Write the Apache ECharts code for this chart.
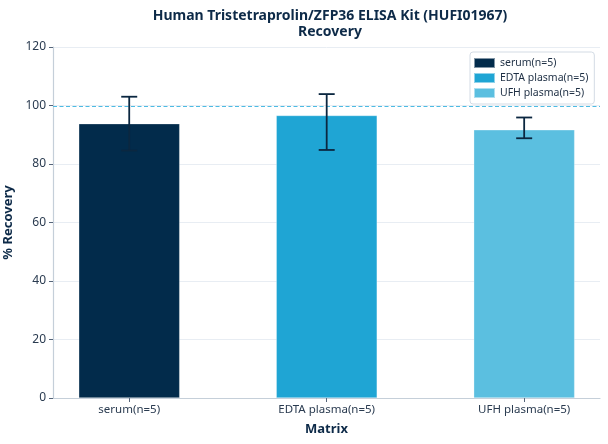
<!DOCTYPE html>
<html>
<head>
<meta charset="UTF-8">
<title>Recovery</title>
<script src="https://cdn.jsdelivr.net/npm/echarts@6/dist/echarts.min.js"></script>
<style>
html, body { margin: 0; padding: 0; background: #fff; }
#chart { width: 608px; height: 444px; }
</style>
</head>
<body>
<div id="chart"></div>
<script>
// data
var categories = ['serum(n=5)', 'EDTA plasma(n=5)', 'UFH plasma(n=5)'];
var recovery = [93.8, 96.6, 91.7];
var errLow = [84.6, 84.8, 88.8];
var errHigh = [103.0, 103.9, 95.9];
var colors = ['#022b4b', '#1fa5d4', '#5bbfe0'];
var yTicks = [0, 20, 40, 60, 80, 100, 120];
var refLine = 100;

var textColor = '#0d2a48';
var font = 'Noto Sans';

var chart = echarts.init(document.getElementById('chart'));

var series = [];
for (var i = 0; i < categories.length; i++) {
    series.push({
        name: categories[i],
        type: 'bar',
        barWidth: 101,
        barGap: '-100%',
        itemStyle: { color: colors[i], borderColor: 'rgba(255,255,255,0.5)', borderWidth: 0.6 },
        data: [[i, recovery[i]]],
        z: 2
    });
}

var errData = [];
for (var j = 0; j < categories.length; j++) {
    errData.push([j, errLow[j], errHigh[j]]);
}

series.push({
    type: 'custom',
    name: 'error',
    z: 5,
    renderItem: function (params, api) {
        var x = api.value(0);
        var lo = api.coord([x, api.value(1)]);
        var hi = api.coord([x, api.value(2)]);
        var half = 8;
        var style = { stroke: '#0b2740', lineWidth: 1.8 };
        return {
            type: 'group',
            children: [
                { type: 'line', shape: { x1: lo[0], y1: lo[1], x2: hi[0], y2: hi[1] }, style: style },
                { type: 'line', shape: { x1: hi[0] - half, y1: hi[1], x2: hi[0] + half, y2: hi[1] }, style: style },
                { type: 'line', shape: { x1: lo[0] - half, y1: lo[1], x2: lo[0] + half, y2: lo[1] }, style: style }
            ]
        };
    },
    encode: { x: 0, y: [1, 2] },
    data: errData
});

// 100% reference line across the plot
series.push({
    type: 'custom',
    name: 'ref',
    z: 1,
    silent: true,
    renderItem: function (params, api) {
        var p = api.coord([0, api.value(0)]);
        var y = Math.round(p[1]) + 0.5;
        return {
            type: 'line',
            shape: { x1: params.coordSys.x, y1: y, x2: params.coordSys.x + params.coordSys.width, y2: y },
            style: { stroke: '#4dbbe3', lineWidth: 1.1, lineDash: [4, 2.5] }
        };
    },
    encode: { y: 0 },
    data: [[refLine]]
});

var option = {
    textStyle: { fontFamily: font },
    title: {
        text: 'Human Tristetraprolin/ZFP36 ELISA Kit (HUFI01967)\nRecovery',
        left: 330,
        textAlign: 'center',
        top: 5,
        padding: [3, 0, 3, 0],
        textStyle: { fontFamily: font, fontSize: 14, fontWeight: 'bold', color: textColor, lineHeight: 16 }
    },
    legend: {
        orient: 'vertical',
        left: 470,
        top: 52,
        data: categories,
        icon: 'rect',
        itemWidth: 21,
        itemHeight: 10,
        itemGap: 3,
        padding: [5, 6, 5, 3],
        borderColor: '#d3dbe4',
        borderWidth: 1,
        borderRadius: 3,
        backgroundColor: '#fff',
        textStyle: { fontFamily: font, fontSize: 10.5, color: '#1e2f44' }
    },
    grid: { left: 53, right: 8, top: 47, bottom: 46, outerBoundsMode: 'none' },
    xAxis: {
        type: 'value',
        min: -0.386,
        max: 2.384,
        name: 'Matrix',
        nameLocation: 'middle',
        nameGap: 25,
        nameTextStyle: { fontFamily: font, fontSize: 13, fontWeight: 'bold', color: textColor },
        axisLine: { onZero: false, lineStyle: { color: '#c5cfd9', width: 1.2 } },
        axisTick: { show: true, customValues: [0, 1, 2], length: 4, lineStyle: { color: '#55657a' } },
        axisLabel: {
            customValues: [0, 1, 2],
            formatter: function (v) { return categories[Math.round(v)]; },
            fontFamily: font, fontSize: 11.5, color: '#2a3b50', margin: 6
        },
        splitLine: { show: false }
    },
    yAxis: {
        type: 'value',
        min: yTicks[0],
        max: yTicks[yTicks.length - 1],
        interval: 20,
        name: '% Recovery',
        nameLocation: 'middle',
        nameGap: 29,
        nameTextStyle: { fontFamily: font, fontSize: 13, fontWeight: 'bold', color: textColor },
        axisLine: { show: true, onZero: false, lineStyle: { color: '#c5cfd9', width: 1.2 } },
        axisTick: { show: true, length: 4, lineStyle: { color: '#55657a' } },
        axisLabel: { fontFamily: font, fontSize: 12, color: '#2a3b50', margin: 7 },
        splitLine: { lineStyle: { color: '#e8edf3', width: 1 } }
    },
    series: series
};

chart.setOption(option);
</script>
</body>
</html>
